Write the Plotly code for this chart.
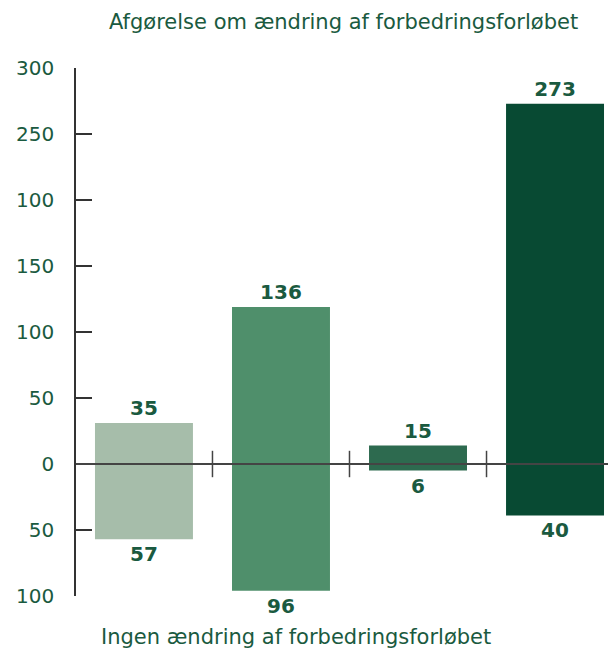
import plotly.graph_objects as go

categories = ["A", "B", "C", "D"]
# bar extents as drawn in the reference
up_values = [31, 119, 14, 273]
down_values = [57, 96, 5, 39]
# labels as printed in the reference
up_labels = ["35", "136", "15", "273"]
down_labels = ["57", "96", "6", "40"]
colors = ["#a6bdaa", "#4f8f6b", "#2d6a4f", "#084a33"]
tick_vals = [300, 250, 200, 150, 100, 50, 0, -50, -100]
tick_text = ["300", "250", "100", "150", "100", "50", "0", "50", "100"]

top_title = "Afgørelse om ændring af forbedringsforløbet"
bottom_title = "Ingen ændring af forbedringsforløbet"

txt = "#1a5a40"
font_family = "'DejaVu Sans', sans-serif"

x = list(range(len(categories)))

label_font = dict(color=txt, size=20, family=font_family, weight="bold")

fig = go.Figure()
fig.add_trace(go.Bar(
    x=x, y=up_values, marker=dict(color=colors, line=dict(width=0)),
    width=0.715, text=up_labels, textposition="outside",
    outsidetextfont=label_font,
    cliponaxis=False, hoverinfo="skip", showlegend=False,
))
fig.add_trace(go.Bar(
    x=x, y=[-v for v in down_values], marker=dict(color=colors, line=dict(width=0)),
    width=0.715, text=down_labels, textposition="outside",
    outsidetextfont=label_font,
    cliponaxis=False, hoverinfo="skip", showlegend=False,
))

shapes = [dict(type="line", xref="paper", yref="y", x0=0, x1=1.02, y0=0, y1=0,
               line=dict(color="#444444", width=2), layer="above")]
for i in range(len(categories) - 1):
    shapes.append(dict(type="line", xref="x", yref="y", x0=i + 0.5, x1=i + 0.5,
                       y0=-10, y1=10, line=dict(color="#444444", width=1.5), layer="above"))

# page body has an 8px margin, so the figure is sized/offset to compensate
fig.update_layout(
    width=608, height=640,
    margin=dict(l=68, r=0, t=60, b=52),
    paper_bgcolor="white", plot_bgcolor="white",
    barmode="overlay",
    font=dict(family=font_family, color=txt, size=20),
    xaxis=dict(range=[-0.496, 3.445], visible=False, fixedrange=True),
    yaxis=dict(range=[-100, 300], tickvals=tick_vals, ticktext=tick_text,
               showgrid=False, zeroline=False, showline=True, linecolor="#333333",
               linewidth=1.5, ticks="inside", ticklen=16, tickwidth=1.5,
               tickcolor="#333333", ticklabelstandoff=16,
               tickfont=dict(size=20, color=txt, family=font_family), fixedrange=True),
    shapes=shapes,
    annotations=[
        dict(text=top_title, xref="paper", yref="paper", x=(343 - 76) / 540, y=1,
             yshift=46, xanchor="center", yanchor="middle", showarrow=False,
             font=dict(size=21, color=txt, family=font_family)),
        dict(text=bottom_title, xref="paper", yref="paper", x=(296 - 76) / 540, y=0,
             yshift=-41, xanchor="center", yanchor="middle", showarrow=False,
             font=dict(size=21, color=txt, family=font_family)),
    ],
)

fig.write_html("out.html")
